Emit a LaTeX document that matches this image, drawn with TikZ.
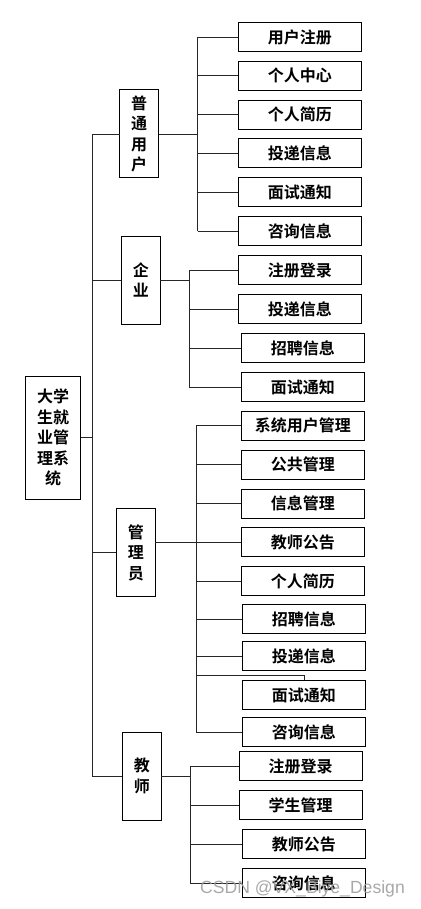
\documentclass[tikz,border=0pt]{standalone}
\usepackage{fontspec}
\newfontfamily\cjk{Noto Sans CJK SC}[BoldFont={* Bold}]
\newfontfamily\wmfont{Liberation Sans}
\begin{document}
\begin{tikzpicture}[x=1pt,y=-1pt,
  box/.style={draw=black, line width=1pt, inner sep=0pt, outer sep=0pt, fill=white,
    font=\cjk\bfseries\fontsize{16}{20.5}\selectfont, align=center},
  leaf/.style={box, minimum width=123pt, minimum height=29.3pt},
  cat/.style={box, minimum width=39pt, minimum height=88pt},
  wire/.style={line width=0.9pt, draw=black!85}]
\useasboundingbox[fill=white] (0,0) rectangle (420,909);

% root
\node[box, minimum width=55pt, minimum height=123.3pt] (root) at (53.2,437.7) {大学\\生就\\业管\\理系\\统};

% categories
\node[cat] (cu) at (139,134) {普\\通\\用\\户};
\node[cat] (ce) at (140.8,280) {企\\业};
\node[cat] (ca) at (135.8,552.5) {管\\理\\员};
\node[cat] (ct) at (141.8,776) {教\\师};

% user leaves
\node[leaf] (u1) at (299.8,37) {用户注册};
\node[leaf] (u2) at (299.8,75.7) {个人中心};
\node[leaf] (u3) at (299.8,114.7) {个人简历};
\node[leaf] (u4) at (299.8,153.3) {投递信息};
\node[leaf] (u5) at (299.8,192.3) {面试通知};
\node[leaf] (u6) at (299.8,231.3) {咨询信息};

% enterprise leaves
\node[leaf] (e1) at (299.8,270.3) {注册登录};
\node[leaf] (e2) at (299.8,309) {投递信息};
\node[leaf] (e3) at (302.8,348) {招聘信息};
\node[leaf] (e4) at (302.8,387) {面试通知};

% admin leaves
\node[leaf] (a1) at (302.8,425.8) {系统用户管理};
\node[leaf] (a2) at (302.8,464.7) {公共管理};
\node[leaf] (a3) at (302.8,503.7) {信息管理};
\node[leaf] (a4) at (302.8,542.3) {教师公告};
\node[leaf] (a5) at (302.8,581.3) {个人简历};
\node[leaf] (a6) at (303.8,619) {招聘信息};
\node[leaf] (a7) at (303.8,656.3) {投递信息};
\node[leaf] (a8) at (303.8,695) {面试通知};
\node[leaf] (a9) at (303.8,732.3) {咨询信息};

% teacher leaves
\node[leaf] (t1) at (300.7,766.3) {注册登录};
\node[leaf] (t2) at (300.7,805.3) {学生管理};
\node[leaf] (t3) at (303.8,844.3) {教师公告};
\node[leaf] (t4) at (303.8,883.3) {咨询信息};

% main trunk
\coordinate (mtop) at (92.3,134);
\coordinate (mbot) at (92.3,776);
\draw[wire] (mtop) -- (mbot);
\draw[wire] (root.east) -- (root.east -| mtop);
\foreach \c in {cu,ce,ca,ct} \draw[wire] (\c.west -| mtop) -- (\c.west);

% user bus
\coordinate (ub) at (197.7,0);
\draw[wire] (cu.east) -- (cu.east -| ub);
\draw[wire] (u1.west -| ub) -- (u6.west -| ub);
\foreach \l in {u1,u2,u3,u4,u5,u6} \draw[wire] (\l.west -| ub) -- (\l.west);

% enterprise bus
\coordinate (eb) at (189.3,0);
\draw[wire] (ce.east) -- (ce.east -| eb);
\draw[wire] (e1.west -| eb) -- (e4.west -| eb);
\foreach \l in {e1,e2,e3,e4} \draw[wire] (\l.west -| eb) -- (\l.west);

% admin bus
\coordinate (ab) at (196.3,0);
\draw[wire] (ca.east |- a4.west) -- (a4.west);
\draw[wire] (a1.west -| ab) -- (a9.west -| ab);
\foreach \l in {a1,a2,a3,a5,a6,a7,a9} \draw[wire] (\l.west -| ab) -- (\l.west);
\coordinate (g) at (304,675.8);
\draw[wire] (g -| ab) -- (g) -- (g |- a8.north);

% teacher bus
\coordinate (tb) at (190.3,0);
\draw[wire] (ct.east) -- (ct.east -| tb);
\draw[wire] (t1.west -| tb) -- (t4.west -| tb);
\foreach \l in {t1,t2,t3,t4} \draw[wire] (\l.west -| tb) -- (\l.west);

% watermark
\node[text=black!40, opacity=0.85, font=\wmfont\fontsize{17.6}{17.6}\selectfont, inner sep=0pt] (wm) at (302.5,889) {CSDN @VX\_Biye\_Design};
\end{tikzpicture}
\end{document}
